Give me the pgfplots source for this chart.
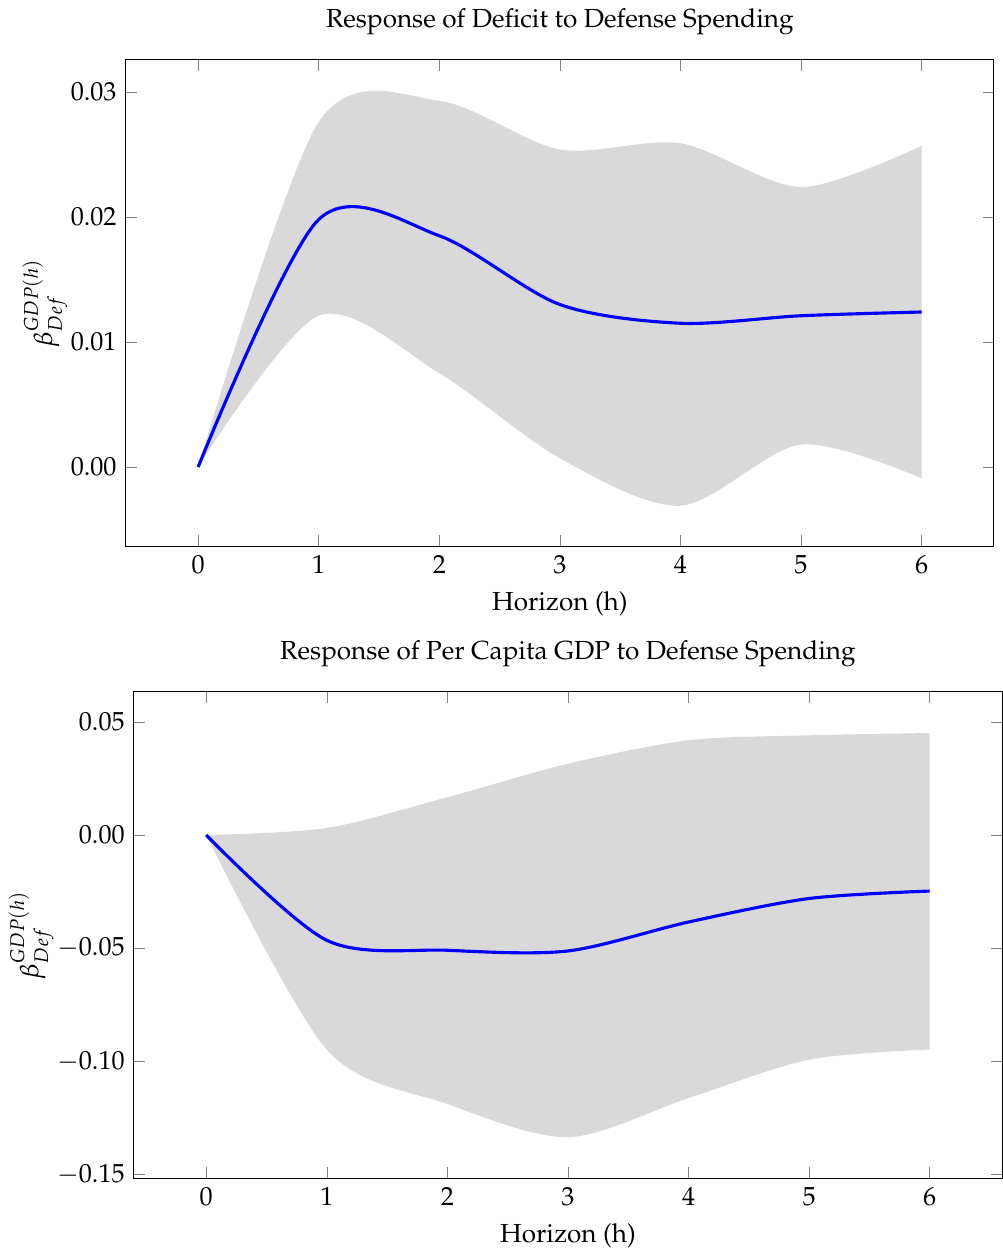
\documentclass[border=0pt]{standalone}
\usepackage[T1]{fontenc}
\usepackage{mathpazo}
\usepackage{pgfplots}
\pgfplotsset{compat=1.18}
\usepgfplotslibrary{fillbetween}
\definecolor{bandgray}{RGB}{217,217,217}
\pgfplotstableread{
x lo mean up
0 0.0000 0.0000 0.0000
1 0.0121 0.0198 0.0276
2 0.0075 0.0185 0.0293
3 0.0007 0.0130 0.0254
4 -0.0031 0.0115 0.0259
5 0.0018 0.0121 0.0224
6 -0.0009 0.0124 0.0257
}\deficit
\pgfplotstableread{
x lo mean up
0 0.0000 0.0000 0.0000
1 -0.0950 -0.0466 0.0031
2 -0.1190 -0.0510 0.0167
3 -0.1337 -0.0513 0.0315
4 -0.1164 -0.0385 0.0419
5 -0.0994 -0.0281 0.0441
6 -0.0949 -0.0248 0.0451
}\gdp
\begin{document}
\begin{tikzpicture}
\pgfplotsset{every axis/.append style={
  scale only axis, width=332.3pt, height=186.2pt,
  xmin=-0.6, xmax=6.6, xtick={0,1,2,3,4,5,6},
  xlabel={Horizon (h)},
  ylabel={$\beta^{GDP(h)}_{Def}$},
  ylabel shift=-5.5pt,
  scaled y ticks=false,
  yticklabel style={/pgf/number format/fixed, /pgf/number format/fixed zerofill, /pgf/number format/precision=2},
}}
\begin{axis}[name=top, ymin=-0.00635, ymax=0.03257, ytick={0,0.01,0.02,0.03},
  title={Response of Deficit to Defense Spending}]
\addplot[name path=up, draw=none, smooth] table[x=x,y=up] {\deficit};
\addplot[name path=lo, draw=none, smooth] table[x=x,y=lo] {\deficit};
\addplot[bandgray] fill between[of=up and lo];
\addplot[blue, very thick, smooth] table[x=x,y=mean] {\deficit};
\end{axis}
\begin{axis}[at={(3.1pt,-241.9pt)}, ymin=-0.1519, ymax=0.0633, ytick={-0.15,-0.1,-0.05,0,0.05},
  title={Response of Per Capita GDP to Defense Spending}]
\addplot[name path=up, draw=none, smooth] table[x=x,y=up] {\gdp};
\addplot[name path=lo, draw=none, smooth] table[x=x,y=lo] {\gdp};
\addplot[bandgray] fill between[of=up and lo];
\addplot[blue, very thick, smooth] table[x=x,y=mean] {\gdp};
\end{axis}
\end{tikzpicture}
\end{document}
